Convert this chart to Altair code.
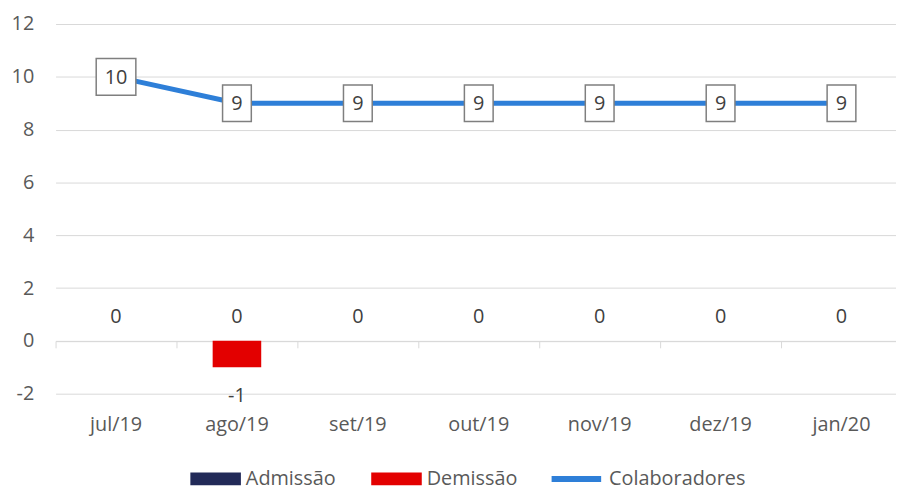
import altair as alt
import pandas as pd

months = ["jul/19", "ago/19", "set/19", "out/19", "nov/19", "dez/19", "jan/20"]
admissao = [0, 0, 0, 0, 0, 0, 0]
demissao = [0, -1, 0, 0, 0, 0, 0]
colaboradores = [10, 9, 9, 9, 9, 9, 9]

df = pd.DataFrame({
    "mes": months,
    "admissao": admissao,
    "demissao": demissao,
    "colaboradores": colaboradores,
})

GRAY = "#595959"
DARK = "#404040"
GRID = "#D9D9D9"
FS = 20

xscale = alt.Scale(domain=months, range=[0, 854], paddingInner=0, paddingOuter=0)
yscale = alt.Scale(domain=[-2, 12], nice=False, zero=False)

def xenc(axis=None):
    if axis is None:
        return alt.X("mes:N", sort=months, scale=xscale, axis=None)
    return alt.X("mes:N", sort=months, scale=xscale, axis=axis)

base = alt.Chart(df)

zero_axis = alt.Axis(orient="bottom", offset=-53.29, labels=False, domain=True, domainColor=GRID,
                     domainWidth=1, ticks=True, tickBand="extent", tickSize=7,
                     tickColor=GRID, tickWidth=1, grid=False, title=None)
label_axis = alt.Axis(orient="bottom", labels=True, domain=False, ticks=False, tickSize=0, grid=False,
                      labelPadding=37, labelBaseline="alphabetic", labelFontSize=FS,
                      labelColor=GRAY, labelAngle=0, title=None)
y_axis = alt.Axis(orient="left", values=[-2, 0, 2, 4, 6, 8, 10, 12], grid=True, gridColor=GRID,
                  gridWidth=1, domain=False, ticks=False, labelPadding=22,
                  labelFontSize=FS, labelColor=GRAY, title=None,
                  labelExpr="toString(datum.value)")

def bar_legend(x):
    return alt.Legend(orient="none", legendX=x, legendY=433.5, padding=0,
                      symbolType="M-1,-0.25H1V0.25H-1Z", symbolSize=2601,
                      symbolStrokeWidth=0, labelFontSize=FS, labelColor=GRAY,
                      labelOffset=5)

bars_adm = base.mark_bar(width=49).transform_calculate(serie="'Admissão'").encode(
    x=xenc(zero_axis),
    y=alt.Y("admissao:Q", scale=yscale, axis=y_axis),
    color=alt.Color("serie:N", title=None,
                    scale=alt.Scale(domain=["Admissão"], range=["#222A58"]),
                    legend=bar_legend(136)),
)

bars_dem = base.mark_bar(width=49).transform_calculate(serie="'Demissão'").encode(
    x=xenc(label_axis),
    y=alt.Y("demissao:Q", scale=yscale, axis=None),
    color=alt.Color("serie:N", title=None,
                    scale=alt.Scale(domain=["Demissão"], range=["#E30000"]),
                    legend=bar_legend(318.5)),
)

line = base.mark_line(strokeWidth=5).transform_calculate(serie="'Colaboradores'").encode(
    x=xenc(),
    y=alt.Y("colaboradores:Q", scale=yscale, axis=None),
    color=alt.Color("serie:N", title=None,
                    scale=alt.Scale(domain=["Colaboradores"], range=["#2E7FD8"]),
                    legend=alt.Legend(orient="none", legendX=497.5, legendY=431,
                                      padding=0, symbolType="stroke", symbolSize=2500,
                                      symbolStrokeWidth=6, labelFontSize=FS,
                                      labelColor=GRAY, labelOffset=5)),
)

path9 = "M-0.725,-0.925H0.725V0.925H-0.725Z"
path10 = "M-1,-0.925H1V0.925H-1Z"

boxes = base.mark_point(filled=True, fill="white", stroke="#7F7F7F", strokeWidth=1.5,
                        opacity=1, size=1600).transform_calculate(
    nd="toString(length(toString(datum.colaboradores)))"
).encode(
    x=xenc(),
    y=alt.Y("colaboradores:Q", scale=yscale, axis=None),
    shape=alt.Shape("nd:N", scale=alt.Scale(domain=["1", "2"], range=[path9, path10]),
                    legend=None),
)

box_text = base.mark_text(fontSize=FS, color=DARK, baseline="alphabetic", dy=7).encode(
    x=xenc(),
    y=alt.Y("colaboradores:Q", scale=yscale, axis=None),
    text=alt.Text("colaboradores:Q"),
)

zero_text = base.mark_text(fontSize=FS, color=DARK, baseline="alphabetic", dy=-18).encode(
    x=xenc(),
    y=alt.Y("admissao:Q", scale=yscale, axis=None),
    text=alt.Text("admissao:Q"),
)

dem_text = base.mark_text(fontSize=FS, color=DARK, baseline="alphabetic", dy=35).transform_filter(
    "datum.demissao != 0"
).transform_calculate(lbl="toString(datum.demissao)").encode(
    x=xenc(),
    y=alt.Y("demissao:Q", scale=yscale, axis=None),
    text=alt.Text("lbl:N"),
)

chart = alt.layer(
    bars_adm, bars_dem, line, boxes, box_text, zero_text, dem_text
).resolve_scale(color="independent").resolve_axis(x="independent", y="independent").properties(
    width=848, height=373,
    autosize=alt.AutoSizeParams(type="none"),
    padding={"left": 48, "top": 14, "right": 0, "bottom": 91},
).configure(font="Open Sans").configure_view(strokeWidth=0)

chart.save("out.html", embed_options={"renderer": "svg", "actions": False})
